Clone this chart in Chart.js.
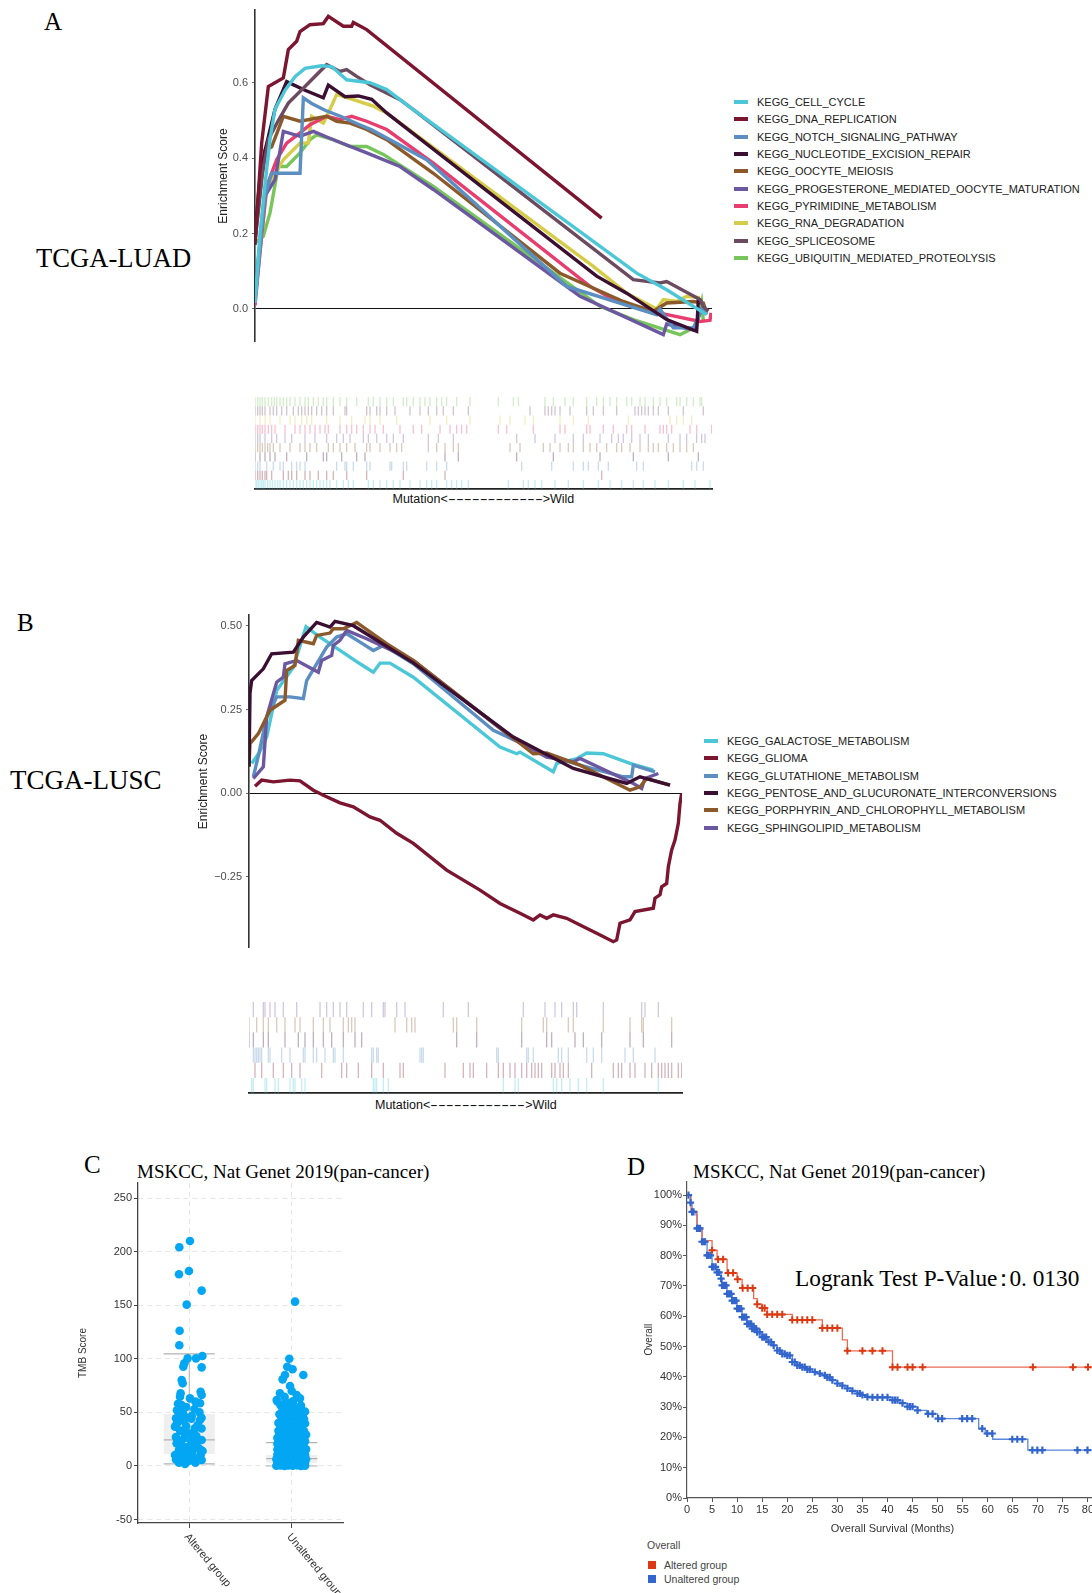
<!DOCTYPE html>
<html><head><meta charset="utf-8">
<script src="https://cdn.jsdelivr.net/npm/chart.js@4.4.1/dist/chart.umd.min.js"></script>
<style>
html,body{margin:0;padding:0;width:1092px;height:1593px;overflow:hidden;background:#fff;}
.t{position:absolute;white-space:nowrap;}
.serif{font-family:"Liberation Serif","Times New Roman",serif;color:#000;}
.sans{font-family:"Liberation Sans",Arial,sans-serif;}
canvas{position:absolute;}
.leg{position:absolute;font-family:"Liberation Sans",Arial,sans-serif;font-size:11px;color:#222;white-space:nowrap;line-height:14px;}
.leg i{position:absolute;left:-23px;top:5px;width:14px;height:4px;}
.dash{display:inline-block;transform-origin:0 50%;}
</style></head><body>

<div class="t serif" style="left:44px;top:8px;font-size:25px;line-height:28px;">A</div>
<div class="t serif" style="left:36px;top:243px;font-size:26.6px;line-height:30px;">TCGA-LUAD</div>
<div class="t serif" style="left:17px;top:609px;font-size:25px;line-height:28px;">B</div>
<div class="t serif" style="left:10px;top:765px;font-size:27px;line-height:30px;">TCGA-LUSC</div>
<div class="t serif" style="left:84px;top:1151px;font-size:25px;line-height:28px;">C</div>
<div class="t serif" style="left:137px;top:1160px;font-size:19px;line-height:24px;">MSKCC, Nat Genet 2019(pan-cancer)</div>
<div class="t serif" style="left:627px;top:1153px;font-size:25px;line-height:28px;">D</div>
<div class="t serif" style="left:693px;top:1160px;font-size:19px;line-height:24px;">MSKCC, Nat Genet 2019(pan-cancer)</div>
<div class="t serif" style="left:795px;top:1263px;font-size:23.3px;line-height:30px;">Logrank Test P-Value<span style="margin:0 -6px 0 -5px">：</span>0. 0130</div>

<div id="legA"></div>
<div id="legB"></div>

<div class="t sans" id="capA" style="top:491px;font-size:12.5px;line-height:16px;color:#111;">Mutation&lt;<span class="dash">------------</span>&gt;Wild</div>
<div class="t sans" id="capB" style="top:1097px;font-size:12.5px;line-height:16px;color:#111;">Mutation&lt;<span class="dash">------------</span>&gt;Wild</div>

<div class="t sans" style="left:647px;top:1538px;font-size:10.5px;line-height:14px;color:#444;">Overall</div>
<div class="t" style="left:648px;top:1561px;width:8px;height:8px;background:#dc3912;"></div>
<div class="t sans" style="left:664px;top:1558px;font-size:10.5px;line-height:14px;color:#444;">Altered group</div>
<div class="t" style="left:648px;top:1575px;width:8px;height:8px;background:#3366cc;"></div>
<div class="t sans" style="left:664px;top:1572px;font-size:10.5px;line-height:14px;color:#444;">Unaltered group</div>

<canvas id="esA" width="520" height="350" style="left:200px;top:0px;"></canvas>
<canvas id="bcA" width="480" height="110" style="left:240px;top:385px;"></canvas>
<canvas id="esB" width="520" height="350" style="left:180px;top:605px;"></canvas>
<canvas id="bcB" width="460" height="112" style="left:240px;top:990px;"></canvas>
<canvas id="tmb" width="300" height="418" style="left:60px;top:1175px;"></canvas>
<canvas id="km" width="500" height="370" style="left:610px;top:1175px;"></canvas>

<script>
// ---------------- DATA: Panel A (TCGA-LUAD) running enrichment scores [rank, ES] ----------------
const luadNames = ['KEGG_CELL_CYCLE','KEGG_DNA_REPLICATION','KEGG_NOTCH_SIGNALING_PATHWAY','KEGG_NUCLEOTIDE_EXCISION_REPAIR','KEGG_OOCYTE_MEIOSIS','KEGG_PROGESTERONE_MEDIATED_OOCYTE_MATURATION','KEGG_PYRIMIDINE_METABOLISM','KEGG_RNA_DEGRADATION','KEGG_SPLICEOSOME','KEGG_UBIQUITIN_MEDIATED_PROTEOLYSIS'];
const luadCellCycle = [[0,0.016],[15,0.20],[30,0.33],[45,0.45],[60,0.53],[90,0.58],[120,0.616],[150,0.638],[200,0.645],[230,0.643],[275,0.608],[345,0.600],[395,0.582],[475,0.529],[1145,0.095],[1235,0.051],[1355,-0.015]];
const luadDnaReplication = [[0,0.17],[20,0.44],[40,0.59],[85,0.613],[100,0.688],[125,0.71],[135,0.736],[165,0.754],[205,0.757],[220,0.776],[265,0.75],[290,0.75],[295,0.76],[335,0.741],[1040,0.241]];
const luadNotch = [[0,0.02],[30,0.30],[50,0.36],[80,0.36],[135,0.36],[145,0.56],[170,0.545],[210,0.527],[260,0.51],[310,0.49],[350,0.475],[515,0.396],[935,0.06],[1205,-0.015],[1215,0.0],[1255,-0.05],[1315,-0.05],[1345,0.007],[1355,-0.015]];
const luadNucleotide = [[0,0.20],[15,0.35],[30,0.42],[60,0.53],[95,0.603],[150,0.58],[205,0.56],[220,0.594],[270,0.563],[310,0.565],[350,0.556],[395,0.52],[1025,0.087],[1115,0.042],[1235,-0.028],[1325,-0.059],[1330,0.025],[1340,0.02]];
const luadOocyte = [[0,0.18],[30,0.42],[50,0.43],[85,0.511],[135,0.498],[215,0.511],[245,0.498],[285,0.493],[335,0.476],[395,0.449],[535,0.36],[915,0.095],[1105,0.02],[1135,0.011],[1195,-0.006],[1235,0.016],[1315,0.02],[1345,0.016],[1350,0.003]];
const luadProgesterone = [[0,0.05],[30,0.30],[60,0.343],[85,0.471],[135,0.458],[175,0.471],[235,0.449],[335,0.414],[435,0.378],[535,0.317],[975,0.034],[1225,-0.068],[1235,-0.04],[1315,-0.055],[1345,0.01]];
const luadPyrimidine = [[0,0.01],[15,0.15],[35,0.325],[65,0.396],[95,0.44],[135,0.467],[165,0.489],[215,0.511],[255,0.502],[290,0.511],[335,0.498],[395,0.476],[535,0.387],[1005,0.06],[1085,0.02],[1215,-0.011],[1335,-0.033],[1365,-0.03],[1368,-0.01]];
const luadRnaDegradation = [[0,0.025],[35,0.317],[55,0.352],[85,0.396],[135,0.44],[160,0.44],[170,0.511],[205,0.493],[220,0.52],[245,0.569],[295,0.555],[355,0.538],[395,0.52],[1015,0.113],[1115,0.042],[1205,0.0],[1225,0.025],[1265,0.02],[1295,0.034],[1335,0.03]];
const luadSpliceosome = [[0,0.18],[20,0.35],[40,0.45],[70,0.50],[100,0.546],[150,0.59],[190,0.626],[215,0.648],[255,0.630],[275,0.635],[305,0.617],[345,0.595],[435,0.555],[475,0.529],[1135,0.078],[1215,0.069],[1235,0.073],[1335,0.025],[1345,0.007],[1360,-0.006]];
const luadUbiquitin = [[0,0.175],[25,0.193],[45,0.255],[70,0.378],[95,0.378],[135,0.414],[165,0.449],[185,0.462],[235,0.449],[285,0.431],[335,0.431],[385,0.41],[535,0.325],[1035,0.007],[1135,-0.028],[1275,-0.068],[1325,-0.046],[1340,0.016],[1345,-0.03]];
const luadRankMax = 1371;
const luadTicks = [0, 0.2, 0.4, 0.6];

// Panel A hit positions (gene ranks) for the barcode rows
const luadHitsCellCycle = [0,5,10,15,20,25,30,38,45,52,60,68,75,85,95,105,115,125,135,145,155,165,175,185,195,205,215,225,245,265,280,295,340,355,375,395,415,435,465,495,515,530,545,575,590,605,620,640,760,805,820,840,860,900,940,985,1030,1065,1100,1135,1165,1200,1240,1285,1320,1365];
const luadHitsDna = [0,8,15,22,30,35,50,85,100,110,125,150,165,190,215,235,275,335,445,570,1040];
const luadHitsNotch = [0,8,15,35,55,75,85,110,125,135,150,245,270,275,295,335,345,405,410,445,455,515,545,575,800,890,955,985,1000,1030,1060,1145,1165,1310,1325,1345];
const luadHitsNucleotide = [0,15,30,45,60,95,155,205,215,260,305,330,570,610,785,895,1035,1135,1240,1330];
const luadHitsOocyte = [0,8,15,22,30,38,45,55,75,105,135,150,165,185,220,235,255,275,300,335,345,375,405,425,440,520,545,570,595,610,765,795,865,885,915,940,955,985,1005,1025,1055,1085,1100,1125,1155,1180,1195,1210,1235,1255,1275,1295,1315];
const luadHitsProgesterone = [0,8,15,30,50,65,90,110,150,180,215,245,265,285,325,340,365,395,415,445,520,550,595,785,840,900,955,985,1035,1070,1090,1105,1130,1155,1180,1240,1275,1295,1325,1340,1350];
const luadHitsPyrimidine = [0,8,15,22,30,40,50,60,90,120,135,150,165,180,195,210,220,255,275,290,305,325,345,360,385,435,475,500,555,585,605,620,635,730,755,835,915,930,995,1005,1045,1075,1115,1130,1170,1215,1225,1235,1250,1305,1325,1370];
const luadHitsRna = [0,15,30,45,75,105,120,140,155,170,215,255,290,330,345,375,425,525,575,645,735,765,810,835,915,955,1000,1120,1245,1265,1285,1310];
const luadHitsSpliceosome = [0,8,15,22,30,45,55,65,80,95,115,130,140,150,160,170,185,200,215,235,270,275,335,345,365,375,395,420,465,495,520,545,565,595,640,825,870,880,890,900,915,945,995,1015,1045,1085,1140,1150,1160,1170,1180,1195,1210,1240,1285,1345];
const luadHitsUbiquitin = [0,8,15,22,30,40,50,58,65,75,85,95,105,120,135,150,160,175,190,205,215,235,255,275,305,340,355,375,395,415,445,455,475,495,510,525,545,560,575,605,645,730,775,790,870,895,930,955,995,1025,1045,1065,1085,1115,1130,1155,1170,1195,1215,1235,1265,1275,1295,1315,1335,1340];

// ---------------- DATA: Panel B (TCGA-LUSC) ----------------
const luscNames = ['KEGG_GALACTOSE_METABOLISM','KEGG_GLIOMA','KEGG_GLUTATHIONE_METABOLISM','KEGG_PENTOSE_AND_GLUCURONATE_INTERCONVERSIONS','KEGG_PORPHYRIN_AND_CHLOROPHYLL_METABOLISM','KEGG_SPHINGOLIPID_METABOLISM'];
const luscGalactose = [[8,0.089],[30,0.12],[53,0.168],[83,0.307],[133,0.377],[171,0.498],[213,0.467],[273,0.427],[333,0.387],[373,0.362],[393,0.389],[423,0.389],[493,0.347],[753,0.138],[803,0.118],[813,0.123],[913,0.064],[923,0.089],[983,0.103],[1013,0.12],[1063,0.118],[1143,0.089],[1213,0.069]];
const luscGlioma = [[18,0.021],[38,0.039],[73,0.034],[123,0.039],[153,0.037],[193,0.009],[223,-0.006],[273,-0.029],[313,-0.041],[363,-0.071],[393,-0.081],[443,-0.12],[493,-0.15],[593,-0.23],[693,-0.29],[753,-0.33],[813,-0.359],[853,-0.379],[873,-0.364],[893,-0.374],[913,-0.364],[953,-0.374],[993,-0.394],[1043,-0.419],[1093,-0.444],[1103,-0.439],[1113,-0.389],[1143,-0.379],[1158,-0.354],[1213,-0.344],[1218,-0.314],[1233,-0.304],[1238,-0.28],[1253,-0.27],[1258,-0.22],[1268,-0.17],[1278,-0.14],[1288,-0.09],[1293,-0.031],[1298,-0.001]];
const luscGlutathione = [[13,0.049],[30,0.12],[53,0.228],[83,0.288],[123,0.288],[163,0.283],[173,0.337],[203,0.387],[233,0.437],[263,0.467],[293,0.477],[333,0.452],[373,0.427],[403,0.442],[493,0.387],[733,0.188],[883,0.118],[993,0.084],[1123,0.049],[1148,0.049],[1153,0.084],[1218,0.064]];
const luscPentose = [[0,0.08],[3,0.30],[8,0.337],[43,0.372],[68,0.417],[133,0.422],[163,0.467],[203,0.511],[243,0.497],[258,0.514],[313,0.501],[493,0.39],[793,0.168],[973,0.074],[1133,0.029],[1173,0.049],[1263,0.024]];
const luscPorphyrin = [[0,0.079],[3,0.148],[28,0.178],[63,0.248],[108,0.278],[113,0.367],[138,0.382],[148,0.457],[193,0.447],[203,0.472],[243,0.479],[253,0.492],[283,0.492],[323,0.511],[413,0.447],[493,0.397],[853,0.118],[893,0.12],[993,0.084],[1143,0.009],[1173,0.019],[1193,0.044],[1263,0.024]];
const luscSphingolipid = [[13,0.044],[43,0.079],[53,0.228],[83,0.332],[103,0.347],[108,0.387],[143,0.397],[208,0.362],[218,0.397],[248,0.412],[253,0.442],[273,0.457],[293,0.487],[353,0.462],[493,0.397],[793,0.163],[893,0.108],[973,0.094],[993,0.104],[1153,0.029],[1178,0.014],[1188,0.044],[1228,0.059]];
const luscRankMax = 1299;
const luscTicks = [-0.25, 0, 0.25, 0.5];

const luscHitsGalactose = [8,13,48,53,78,88,123,133,138,158,168,373,378,383,403,418,763,798,808,913,923,938,963,988,1013,1063,1228];
const luscHitsGlioma = [18,38,73,103,128,153,218,278,293,328,368,403,453,463,588,643,663,673,713,748,763,783,798,818,833,848,858,868,878,908,918,933,943,958,1028,1093,1108,1118,1143,1158,1188,1208,1228,1238,1248,1258,1268,1288,1298];
const luscHitsGlutathione = [13,18,23,28,33,38,58,63,98,123,163,168,193,203,228,253,258,283,368,373,383,388,513,518,523,743,748,833,838,853,928,938,958,1013,1033,1058,1128,1153,1218];
const luscHitsPentose = [0,13,43,58,108,148,168,193,223,248,283,318,338,623,683,818,893,908,978,1003,1058,1143,1183,1268];
const luscHitsPorphyrin = [0,23,43,58,83,108,138,153,193,223,243,283,298,308,318,438,473,488,498,613,623,683,818,883,893,958,973,1063,1143,1178,1183,1268];
const luscHitsSphingolipid = [13,43,48,63,78,103,143,213,233,253,273,293,343,368,403,408,443,468,583,658,823,888,918,938,973,983,1063,1178,1188,1228];

// ---------------- DATA: Panel C (TMB score) ----------------
const tmbCategories = ['Altered group', 'Unaltered group'];
const tmbCatPos = [0.5, 1.5];
const tmbTicks = [-50, 0, 50, 100, 150, 200, 250];
const tmbQ1 = [11.2, 2.5];
const tmbMedian = [24.3, 6.8];
const tmbQ3 = [48.5, 10.3];
const tmbWhiskerLow = [1.9, 0];
const tmbWhiskerHigh = [104.5, 21.7];
const tmbAltered = [[0.507,209.9],[0.403,204.0],[0.497,181.9],[0.400,178.8],[0.621,163.6],[0.475,150.5],[0.406,126.2],[0.403,112.6],[0.628,102.6],[0.484,100.4],[0.566,100.4],[0.452,95.8],[0.442,92.7],[0.621,92.0],[0.426,80.2],[0.436,77.1],[0.416,67.8],[0.507,63.1],[0.611,69.3],[0.621,66.2],[0.605,58.5],[0.410,64.7],[0.426,56.9],[0.440,52.0],[0.403,49.1],[0.459,46.0],[0.524,46.6],[0.371,44.5],[0.394,41.4],[0.605,42.9],[0.361,36.7],[0.556,35.1],[0.442,32.0],[0.524,30.5],[0.621,24.3],[0.410,22.7],[0.377,21.1],[0.540,21.1],[0.475,15.5],[0.605,15.5],[0.394,11.8],[0.361,10.3],[0.524,8.7],[0.573,7.2],[0.426,4.0],[0.621,5.6],[0.459,1.9],
[0.39,58.0],[0.47,55.0],[0.55,53.0],[0.60,50.0],[0.44,48.0],[0.52,44.0],[0.38,40.0],[0.58,38.0],[0.47,37.0],[0.62,35.0],[0.41,33.0],[0.50,30.0],[0.57,28.0],[0.37,27.0],[0.45,26.0],[0.60,24.0],[0.52,23.0],[0.43,19.0],[0.49,18.0],[0.58,18.0],[0.63,14.0],[0.40,15.0],[0.46,13.0],[0.53,13.0],[0.37,6.0],[0.44,8.0],[0.50,5.0],[0.56,3.0],[0.61,10.0],[0.48,10.0],[0.40,3.0],[0.53,18.0],[0.45,42.0],[0.56,60.0],[0.62,45.0],[0.38,52.0]];
const tmbUnaltered = [
[1.35,0.2],[1.39,0.5],[1.43,0.1],[1.47,0.4],[1.51,0.2],[1.55,0.6],[1.59,0.1],[1.63,0.3],
[1.37,1.6],[1.45,1.3],[1.53,1.8],[1.61,1.4],
[1.36,3.1],[1.41,2.6],[1.46,3.0],[1.50,2.7],[1.54,3.3],[1.58,2.5],[1.63,2.9],
[1.38,4.8],[1.43,4.4],[1.48,5.0],[1.52,4.5],[1.57,4.9],[1.62,4.3],
[1.35,6.3],[1.40,5.9],[1.45,6.4],[1.50,6.0],[1.55,6.6],[1.60,5.8],[1.64,6.2],
[1.37,8.5],[1.42,8.0],[1.47,8.6],[1.52,7.9],[1.56,8.4],[1.61,8.1],
[1.36,10.6],[1.40,10.1],[1.45,10.8],[1.49,10.2],[1.54,10.7],[1.59,10.0],[1.63,10.5],
[1.38,12.9],[1.43,12.4],[1.47,13.1],[1.52,12.5],[1.57,13.0],[1.62,12.6],
[1.36,15.4],[1.41,14.9],[1.46,15.6],[1.50,15.0],[1.55,15.3],[1.60,14.8],[1.64,15.5],
[1.38,18.0],[1.43,17.5],[1.48,18.2],[1.53,17.6],[1.58,18.1],[1.62,17.7],
[1.36,20.8],[1.41,20.2],[1.45,20.7],[1.50,20.3],[1.55,20.9],[1.60,20.4],
[1.38,23.4],[1.43,22.8],[1.48,23.3],[1.53,22.9],[1.57,23.5],[1.63,23.0],
[1.36,26.2],[1.41,25.7],[1.46,26.4],[1.51,25.8],[1.56,26.3],[1.61,25.9],
[1.38,29.5],[1.44,28.9],[1.49,29.4],[1.54,29.0],[1.59,29.6],[1.64,29.1],
[1.37,32.8],[1.42,32.2],[1.47,32.7],[1.52,32.3],[1.57,32.9],[1.62,32.4],
[1.39,36.3],[1.45,35.8],[1.50,36.2],[1.55,35.7],[1.60,36.4],
[1.37,40.1],[1.43,39.5],[1.48,40.0],[1.53,39.6],[1.58,40.2],[1.63,39.7],
[1.40,43.8],[1.46,43.2],[1.51,43.7],[1.57,43.3],[1.62,43.9],
[1.38,48.2],[1.44,47.6],[1.50,48.1],[1.55,47.7],[1.60,48.3],
[1.41,52.3],[1.47,51.7],[1.53,52.2],[1.58,51.8],
[1.39,56.7],[1.46,56.2],[1.52,56.9],[1.59,56.3],
[1.36,60.2],[1.44,59.8],[1.51,60.4],
[1.532,153.3],[1.476,100.1],[1.456,92.6],[1.508,90.2],[1.411,80.8],[1.434,84.9],[1.613,84.9],[1.483,74.6],[1.385,67.8],[1.548,66.2],[1.580,63.1],[1.353,61.6],[1.629,50.7],[1.50,70.0],[1.43,64.5]];

// ---------------- DATA: Panel D (Kaplan-Meier) ----------------
const kmAlteredTime = [0,0.8,2.0,3.0,5.0,6.0,8.0,10.0,11.0,13.3,14.0,15.0,16.0,21.0,27.0,31.0,32.0,41.0,82.0];
const kmAlteredSurv = [100,94.6,89.2,85.0,81.8,78.8,74.3,72.2,69.3,65.8,64.0,62.7,60.6,58.8,56.1,52.2,48.6,43.2,43.2];
const kmAlteredCensor = [5.0,6.2,7.2,8.2,9.2,10.1,11.1,12.1,13.1,14.0,15.0,15.5,16.0,17.0,18.0,19.0,21.0,22.0,23.0,24.0,25.0,27.0,28.0,29.0,30.0,32.0,35.0,37.0,39.0,41.0,42.0,44.0,45.0,47.0,69.0,77.0,80.0];
const kmUnalteredTime = [0,0.7,1.0,1.8,2.0,3.0,4.0,5.0,6.0,6.8,7.0,8.0,9.0,10.0,11.0,12.0,13.0,14.0,15.0,16.0,17.0,18.0,19.0,20.0,21.0,22.0,23.0,24.0,25.0,26.0,27.0,28.0,29.0,30.0,31.0,32.0,33.0,34.0,35.0,36.0,37.0,41.0,42.5,44.0,46.0,47.8,50.0,58.2,59.5,61.0,68.0,82.0];
const kmUnalteredSurv = [100,97.5,94.5,93.5,89.0,84.6,80.1,76.3,74.5,72.4,70.2,67.4,65.2,62.5,59.7,57.5,55.9,54.8,53.1,51.5,50.4,48.7,47.6,47.1,44.9,43.8,43.2,42.5,41.6,41.1,40.5,39.8,38.9,37.8,37.1,36.2,35.4,34.5,34.0,33.4,33.2,32.3,31.3,30.2,28.9,27.8,26.2,22.9,21.3,19.4,15.8,15.8];
const kmUnalteredCensor = [0.3,0.7,1.0,1.3,2.0,2.2,2.6,3.0,3.3,3.6,4.0,4.3,4.7,5.0,5.3,5.7,6.0,6.4,6.8,7.0,7.4,7.8,8.0,8.4,8.8,9.0,9.4,9.8,10.0,10.4,10.8,11.0,11.4,11.8,12.0,12.4,12.8,13.0,13.4,13.8,14.0,14.5,15.0,15.4,15.8,16.3,16.8,17.3,18.0,18.5,19.0,19.5,20.0,20.5,21.0,21.5,22.0,22.5,23.0,23.5,24.0,24.5,25.5,26.5,27.5,28.0,28.5,29.0,30.0,31.0,32.0,33.0,34.0,34.5,35.0,36.0,37.0,38.0,39.0,40.0,41.0,41.5,42.0,43.0,44.0,44.5,45.0,46.0,48.1,49.0,50.1,50.9,54.9,55.9,56.9,58.9,59.9,60.9,64.9,65.9,66.9,68.9,69.9,70.9,77.9,79.9];
const kmXTicks = [0,5,10,15,20,25,30,35,40,45,50,55,60,65,70,75,80];
const kmYTicks = [0,10,20,30,40,50,60,70,80,90,100];

// ---------------- STYLE ----------------
const SANS = '"Liberation Sans", Arial, Helvetica, sans-serif';
Chart.defaults.font.family = SANS;
Chart.defaults.animation = false;
Chart.defaults.responsive = false;
Chart.defaults.devicePixelRatio = 1;
Chart.defaults.plugins.legend.display = false;
Chart.defaults.plugins.tooltip.enabled = false;

const colorsA = ['#4cc7d7','#7b1530','#5b8ec1','#3b0f31','#8c5a2a','#6b58a0','#e83d6f','#d5cd48','#6c4a5f','#76c65b'];
const seriesA = [luadCellCycle,luadDnaReplication,luadNotch,luadNucleotide,luadOocyte,luadProgesterone,luadPyrimidine,luadRnaDegradation,luadSpliceosome,luadUbiquitin];
const hitsA = [luadHitsCellCycle,luadHitsDna,luadHitsNotch,luadHitsNucleotide,luadHitsOocyte,luadHitsProgesterone,luadHitsPyrimidine,luadHitsRna,luadHitsSpliceosome,luadHitsUbiquitin];
const colorsB = ['#4cc7d7','#7b1530','#5b8ec1','#3b0f31','#8c5a2a','#6b58a0'];
const seriesB = [luscGalactose,luscGlioma,luscGlutathione,luscPentose,luscPorphyrin,luscSphingolipid];
const hitsB = [luscHitsGalactose,luscHitsGlioma,luscHitsGlutathione,luscHitsPentose,luscHitsPorphyrin,luscHitsSphingolipid];

function hexA(hex, a){const n=parseInt(hex.slice(1),16);return `rgba(${n>>16},${(n>>8)&255},${n&255},${a})`;}
const noPad = s => { s.paddingTop = 0; s.paddingBottom = 0; s.paddingLeft = 0; s.paddingRight = 0; };

function makeLegend(id, names, colors, left, top, step){
  const el=document.getElementById(id);
  names.forEach((n,i)=>{
    const d=document.createElement('div'); d.className='leg';
    d.style.left=left+'px'; d.style.top=(top+i*step-7)+'px';
    d.innerHTML='<i style="background:'+colors[i]+'"></i>'+n; el.appendChild(d);
  });
}
makeLegend('legA', luadNames, colorsA, 757, 102, 17.33);
makeLegend('legB', luscNames, colorsB, 727, 741, 17.3);

document.querySelectorAll('.dash').forEach(sp=>{const w=sp.offsetWidth, k=1.9; sp.style.transform='scaleX('+k+')'; sp.style.marginRight=(w*(k-1))+'px';});
function centerCap(id, cx){const el=document.getElementById(id); el.style.left=(cx-el.offsetWidth/2)+'px';}
centerCap('capA', 483.5); centerCap('capB', 466);

function makeES(id, names, series, colors, o){
  return new Chart(document.getElementById(id), {
    type:'scatter',
    data:{datasets: o.drawOrder.map(i=>({label:names[i], data:series[i].map(p=>({x:p[0],y:p[1]})), showLine:true, borderColor:colors[i], borderWidth:3.4, pointRadius:0, tension:0, fill:false}))},
    options:{
      layout:{padding:o.padding},
      scales:{
        x:{type:'linear', min:0, max:o.xmax, display:false},
        y:{type:'linear', min:o.ymin, max:o.ymax,
           afterBuildTicks:s=>{s.ticks=o.ticks.map(v=>({value:v}));},
           afterFit:s=>{s.width=o.yw; noPad(s);},
           grid:{color:c=>(c.tick&&c.tick.value===0)?'#111':'rgba(0,0,0,0)', lineWidth:1.1, drawTicks:true, tickLength:3, tickColor:'#666'},
           border:{display:true, color:'#333', width:1.6},
           ticks:{color:'#4d4d4d', font:{size:11}, padding:4, callback:o.fmt},
           title:{display:true, text:'Enrichment Score', color:'#222', font:{size:12}, padding:{top:4,bottom:0}}}
      }
    }
  });
}
makeES('esA', luadNames, seriesA, colorsA, {padding:{left:12,right:8,top:10,bottom:8}, yw:43, xmax:luadRankMax, ymin:-0.0875, ymax:0.793, ticks:luadTicks, fmt:v=>v.toFixed(1), drawOrder:[1,0,8,3,2,4,5,6,7,9]});
makeES('esB', luscNames, seriesB, colorsB, {padding:{left:12,right:18,top:10,bottom:7}, yw:57, xmax:luscRankMax, ymin:-0.463, ymax:0.533, ticks:luscTicks, fmt:v=>v.toFixed(2).replace('-','\u2212'), drawOrder:[3,4,5,2,0,1]});

function makeBarcode(id, hits, colors, o){
  return new Chart(document.getElementById(id), {
    type:'scatter',
    data:{datasets: hits.map((h,i)=>({data:h.map(r=>({x:r,y:i})), showLine:false, pointStyle:'line', pointRotation:90, pointRadius:o.r, pointBorderWidth:1.3, pointBorderColor:hexA(colors[i],0.32), pointBackgroundColor:hexA(colors[i],0.32)}))},
    options:{
      layout:{padding:o.padding},
      scales:{
        x:{type:'linear', min:0, max:o.xmax, afterFit:s=>{s.height=o.xh; noPad(s);}, grid:{display:false, drawTicks:false}, border:{display:true,color:'#222',width:1.8}, ticks:{display:false}},
        y:{type:'linear', min:-0.5, max:hits.length-0.5, display:false}
      }
    }
  });
}
makeBarcode('bcA', hitsA, colorsA, {padding:{left:15,right:8,top:12,bottom:0}, xh:4, xmax:luadRankMax, r:4.6});
makeBarcode('bcB', hitsB, colorsB, {padding:{left:9,right:18,top:12,bottom:0}, xh:6, xmax:luscRankMax, r:7.6});

// ---------------- Panel C ----------------
const boxSets = [];
tmbCatPos.forEach((c,i)=>{
  const l=c-0.25, r=c+0.25, g='rgba(170,170,170,0.9)';
  boxSets.push({data:[{x:l,y:tmbQ3[i]},{x:r,y:tmbQ3[i]}], showLine:true, borderWidth:0, pointRadius:0, fill:{value:tmbQ1[i]}, backgroundColor:'rgba(220,220,220,0.45)', order:3});
  [tmbWhiskerHigh[i], tmbWhiskerLow[i], tmbMedian[i]].forEach(v=>boxSets.push({data:[{x:l,y:v},{x:r,y:v}], showLine:true, borderColor:g, borderWidth:1.2, pointRadius:0, order:2}));
  boxSets.push({data:[{x:c,y:tmbQ3[i]},{x:c,y:tmbWhiskerHigh[i]}], showLine:true, borderColor:g, borderWidth:1, pointRadius:0, order:2});
  boxSets.push({data:[{x:c,y:tmbWhiskerLow[i]},{x:c,y:tmbQ1[i]}], showLine:true, borderColor:g, borderWidth:1, pointRadius:0, order:2});
});
const rotLabels = {id:'rotLabels', afterDraw(chart){
  const ctx=chart.ctx, xs=chart.scales.x, b=chart.chartArea.bottom;
  ctx.save(); ctx.font='11px '+SANS; ctx.fillStyle='#333'; ctx.textAlign='left'; ctx.textBaseline='middle';
  tmbCategories.forEach((lab,i)=>{const px=xs.getPixelForValue(tmbCatPos[i]); ctx.save(); ctx.translate(px-3,b+12); ctx.rotate(50*Math.PI/180); ctx.fillText(lab,0,0); ctx.restore();});
  ctx.restore();
}};
new Chart(document.getElementById('tmb'), {
  type:'scatter',
  data:{datasets:[
    {label:tmbCategories[0], data:tmbAltered.map(p=>({x:p[0],y:p[1]})), pointRadius:4.3, pointBackgroundColor:'#03a6f2', pointBorderWidth:0, order:0},
    {label:tmbCategories[1], data:tmbUnaltered.map(p=>({x:p[0],y:p[1]})), pointRadius:4.3, pointBackgroundColor:'#03a6f2', pointBorderWidth:0, order:0},
    ...boxSets
  ]},
  options:{
    layout:{padding:{left:12,right:17,top:8,bottom:0}},
    scales:{
      x:{type:'linear', min:0, max:2, afterBuildTicks:s=>{s.ticks=tmbCatPos.map(v=>({value:v}));}, afterFit:s=>{s.height=70; noPad(s);},
         ticks:{callback:()=>''}, grid:{color:'#e6e6e6', tickColor:'#444', tickLength:5}, border:{display:true,color:'#444',width:1.3,dash:[5,4]}},
      y:{type:'linear', min:-53.2, max:264, afterBuildTicks:s=>{s.ticks=tmbTicks.map(v=>({value:v}));}, afterFit:s=>{s.width=66; noPad(s);},
         ticks:{color:'#333', font:{size:11}, padding:2}, grid:{color:'#e6e6e6', tickColor:'#444', tickLength:4}, border:{display:true,color:'#444',width:1.3,dash:[5,4]},
         title:{display:true, text:'TMB Score', color:'#333', font:{size:10}, padding:{top:5,bottom:0}}}
    }
  },
  plugins:[rotLabels]
});

// ---------------- Panel D ----------------
function survAt(times, surv, t){let v=surv[0]; for(let i=0;i<times.length;i++){if(times[i]<=t) v=surv[i];} return v;}
new Chart(document.getElementById('km'), {
  type:'scatter',
  data:{datasets:[
    {label:'Altered censored', data:kmAlteredCensor.map(t=>({x:t,y:survAt(kmAlteredTime,kmAlteredSurv,t)})), pointStyle:'cross', pointRadius:3.6, pointBorderWidth:2, pointBorderColor:'#dc3912', showLine:false},
    {label:'Unaltered censored', data:kmUnalteredCensor.map(t=>({x:t,y:survAt(kmUnalteredTime,kmUnalteredSurv,t)})), pointStyle:'cross', pointRadius:3.6, pointBorderWidth:2.2, pointBorderColor:'#3366cc', showLine:false},
    {label:'Altered group', data:kmAlteredTime.map((t,i)=>({x:t,y:kmAlteredSurv[i]})), showLine:true, stepped:'before', borderColor:'#ec6a52', borderWidth:1.3, pointRadius:0},
    {label:'Unaltered group', data:kmUnalteredTime.map((t,i)=>({x:t,y:kmUnalteredSurv[i]})), showLine:true, stepped:'before', borderColor:'#5a86dc', borderWidth:1.3, pointRadius:0}
  ]},
  options:{
    layout:{padding:{left:28,right:12,top:5,bottom:0}},
    scales:{
      x:{type:'linear', min:0, max:82, afterBuildTicks:s=>{s.ticks=kmXTicks.map(v=>({value:v}));}, afterFit:s=>{s.height=47; noPad(s);},
         grid:{drawOnChartArea:false, tickColor:'#555', tickLength:4}, border:{display:true,color:'#555',width:1.2},
         ticks:{color:'#333', font:{size:11}, padding:1, maxRotation:0, autoSkip:false},
         title:{display:true, text:'Overall Survival (Months)', color:'#333', font:{size:11}, padding:{top:0,bottom:9.4}}},
      y:{type:'linear', min:0, max:104.6, afterBuildTicks:s=>{s.ticks=kmYTicks.map(v=>({value:v}));}, afterFit:s=>{s.width=49; noPad(s);},
         grid:{drawOnChartArea:false, tickColor:'#555', tickLength:4}, border:{display:true,color:'#555',width:1.2},
         ticks:{color:'#333', font:{size:11}, padding:1, callback:v=>v+'%'},
         title:{display:true, text:'Overall', color:'#333', font:{size:10}, padding:{top:5,bottom:0}}}
    }
  }
});
</script>
</body></html>
